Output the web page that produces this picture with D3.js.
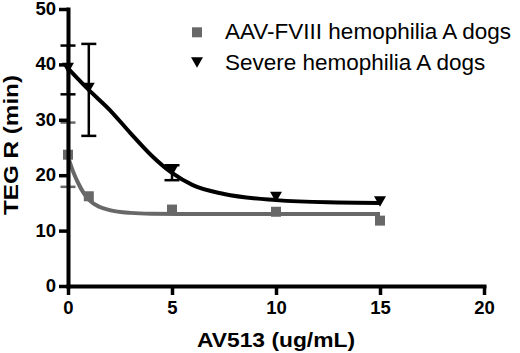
<!DOCTYPE html>
<html>
<head>
<meta charset="utf-8">
<script src="https://d3js.org/d3.v7.min.js"></script>
<style>
  body { margin: 0; background: #fff; }
  svg { display: block; font-family: "Liberation Sans", Arial, Helvetica, sans-serif; }
</style>
</head>
<body>
<script>
(function() {
const width = 520;
const height = 353;

// values (error bars hidden by a marker are left at 0)
const doses = [0, 1, 5, 10, 15];
const aavMean = [23.7, 16.2, 13.8, 13.4, 11.8];
const aavErr = [5.8, 0, 0, 0, 0];
const severeMean = [39.0, 35.4, 20.45, 15.7, 14.9];
const severeErr = [4.4, 8.3, 1.35, 0, 0];

// fitted curves
const aavFitX = [0, 0.25, 0.5, 0.75, 1, 1.5, 2, 3, 4, 6, 10, 15];
const aavFitY = [23.3, 20.6, 18.5, 16.8, 15.6, 14.3, 13.7, 13.2, 13.05, 13.0, 13.0, 13.0];
const severeFitX = [0, 1, 2, 3, 4, 5, 6, 7.5, 10, 12.5, 15];
const severeFitY = [39.3, 35.4, 31.8, 27.6, 23.6, 20.4, 18.2, 16.6, 15.5, 15.1, 15.0];

const xTicks = [0, 5, 10, 15, 20];
const yTicks = [0, 10, 20, 30, 40, 50];
const seriesNames = ["AAV-FVIII hemophilia A dogs", "Severe hemophilia A dogs"];
const gray = "#686868";

const x = d3.scaleLinear().domain([0, 20]).range([68, 484]);
const y = d3.scaleLinear().domain([0, 50]).range([286, 9]);

const svg = d3.select("body").append("svg")
  .attr("width", width)
  .attr("height", height);

const line = d3.line()
  .x((d) => x(d[0]))
  .y((d) => y(d[1]))
  .curve(d3.curveMonotoneX);

// curves
svg.append("path")
  .datum(d3.zip(aavFitX, aavFitY))
  .attr("d", line)
  .attr("fill", "none")
  .attr("stroke", gray)
  .attr("stroke-width", 4);

svg.append("path")
  .datum(d3.zip(severeFitX, severeFitY))
  .attr("d", line)
  .attr("fill", "none")
  .attr("stroke", "#000")
  .attr("stroke-width", 4);

// error bars
function errorBars(means, errs, color) {
  const g = svg.append("g").attr("stroke", color).attr("stroke-width", 2.5);
  const rows = doses.map((d, i) => ({ x: d, m: means[i], e: errs[i] })).filter((d) => d.e > 0);
  g.selectAll(".v").data(rows).join("line")
    .attr("x1", (d) => x(d.x)).attr("x2", (d) => x(d.x))
    .attr("y1", (d) => y(d.m - d.e)).attr("y2", (d) => y(d.m + d.e));
  g.selectAll(".top").data(rows).join("line")
    .attr("x1", (d) => x(d.x) - 7.5).attr("x2", (d) => x(d.x) + 7.5)
    .attr("y1", (d) => y(d.m + d.e)).attr("y2", (d) => y(d.m + d.e));
  g.selectAll(".bot").data(rows).join("line")
    .attr("x1", (d) => x(d.x) - 7.5).attr("x2", (d) => x(d.x) + 7.5)
    .attr("y1", (d) => y(d.m - d.e)).attr("y2", (d) => y(d.m - d.e));
}
errorBars(aavMean, aavErr, gray);
errorBars(severeMean, severeErr, "#000");

const square = d3.symbol().type(d3.symbolSquare).size(100);
const tri = d3.symbol().type(d3.symbolTriangle).size(62);

svg.append("g").selectAll("path")
  .data(doses)
  .join("path")
  .attr("d", square)
  .attr("fill", gray)
  .attr("transform", (d, i) => `translate(${x(d)},${y(aavMean[i])})`);

svg.append("g").selectAll("path")
  .data(doses)
  .join("path")
  .attr("d", tri)
  .attr("fill", "#000")
  .attr("transform", (d, i) => `translate(${x(d)},${y(severeMean[i]) - 3.7}) rotate(180)`);

// axes
const xAxis = svg.append("g")
  .attr("transform", `translate(0,${y(0)})`)
  .call(d3.axisBottom(x).tickValues(xTicks).tickSizeInner(9).tickSizeOuter(0).tickPadding(6));
const yAxis = svg.append("g")
  .attr("transform", `translate(${x(0)},0)`)
  .call(d3.axisLeft(y).tickValues(yTicks).tickSizeInner(9).tickSizeOuter(0).tickPadding(3));

[xAxis, yAxis].forEach((a) => {
  a.select(".domain").attr("stroke-width", 4).attr("stroke-linecap", "square");
  a.selectAll(".tick line").attr("stroke-width", 3.5);
  a.selectAll(".tick text")
    .attr("font-size", "18.5px")
    .attr("font-weight", "bold")
    .attr("font-family", "'Liberation Sans', Arial, sans-serif")
    .attr("fill", "#000");
});
yAxis.selectAll(".tick text").attr("dy", "0.3em");

// axis titles
svg.append("text")
  .attr("x", x(10))
  .attr("y", 347)
  .attr("text-anchor", "middle")
  .attr("font-size", "21px")
  .attr("font-weight", "bold")
  .attr("textLength", 158)
  .attr("lengthAdjust", "spacingAndGlyphs")
  .text("AV513 (ug/mL)");

svg.append("text")
  .attr("transform", `translate(18,145) rotate(-90)`)
  .attr("text-anchor", "middle")
  .attr("font-size", "21px")
  .attr("font-weight", "bold")
  .attr("textLength", 140)
  .attr("lengthAdjust", "spacingAndGlyphs")
  .text("TEG R (min)");

// legend
const legend = svg.append("g");
const legendY = [32.3, 62.5];
legend.append("path")
  .attr("d", square)
  .attr("fill", gray)
  .attr("transform", `translate(197,${legendY[0]})`);
legend.append("path")
  .attr("d", tri)
  .attr("fill", "#000")
  .attr("transform", `translate(197,${legendY[1] - 1.7}) rotate(180)`);
legend.selectAll("text")
  .data(seriesNames)
  .join("text")
  .attr("x", 225)
  .attr("y", (d, i) => [38.5, 69.5][i])
  .attr("font-size", "22.5px")
  .text((d) => d);
}());
</script>
</body>
</html>
